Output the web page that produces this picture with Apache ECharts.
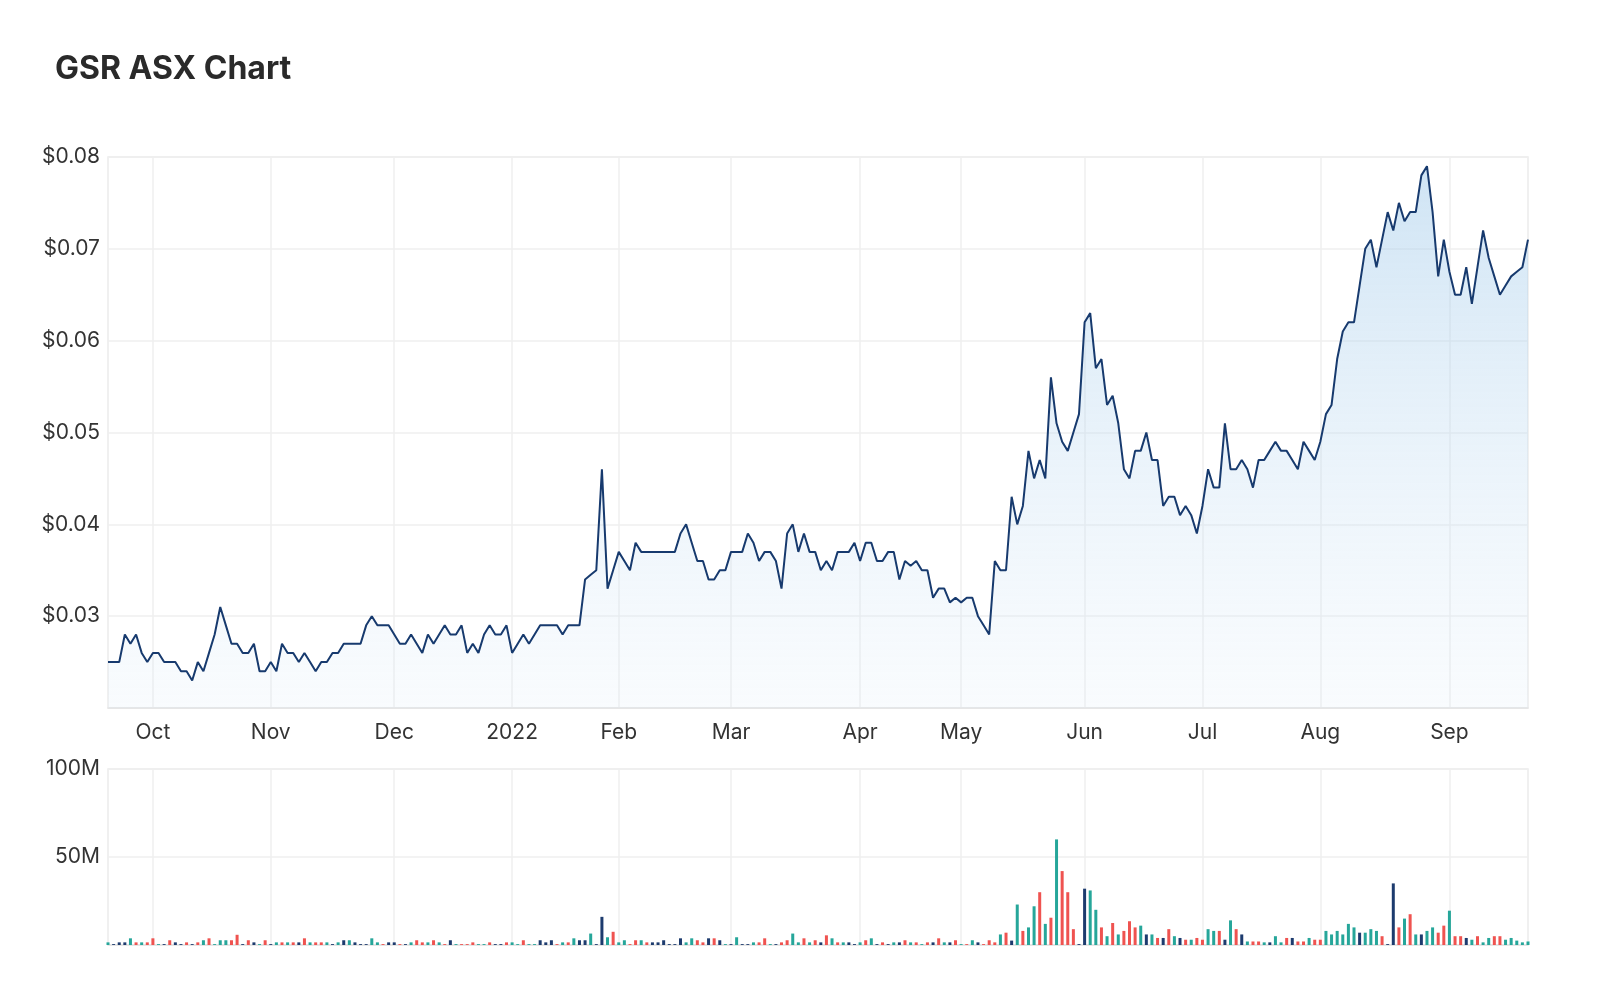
<!DOCTYPE html>
<html>
<head>
<meta charset="utf-8">
<script src="https://cdn.jsdelivr.net/npm/echarts@6/dist/echarts.min.js"></script>
<style>
  html, body { margin: 0; padding: 0; background: #fff; }
  #chart { width: 1608px; height: 984px; }
</style>
</head>
<body>
<div id="chart"></div>
<script>
// trading days: weekdays from 2021-09-21, ASX holidays skipped
const holidays = ['2021-12-27', '2021-12-28', '2022-01-03', '2022-01-26', '2022-04-15',
  '2022-04-18', '2022-04-25', '2022-06-13', '2022-09-22'];
const startDay = '2021-09-21';
const dayCount = 255;
const monthNames = ['Jan', 'Feb', 'Mar', 'Apr', 'May', 'Jun', 'Jul', 'Aug', 'Sep', 'Oct', 'Nov', 'Dec'];

// closing price, $
const prices = [
  .025, .025, .025, .028, .027, .028, .026, .025, .026, .026, .025,
  .025, .025, .024, .024, .023, .025, .024, .026, .028, .031,
  .029, .027, .027, .026, .026, .027, .024, .024, .025, .024,
  .027, .026, .026, .025, .026, .025, .024, .025, .025, .026,
  .026, .027, .027, .027, .027, .029, .030, .029, .029, .029,
  .028, .027, .027, .028, .027, .026, .028, .027, .028, .029,
  .028, .028, .029, .026, .027, .026, .028, .029, .028, .028,
  .029, .026, .027, .028, .027, .028, .029, .029, .029, .029,
  .028, .029, .029, .029,
  .034, .0345, .035, .046, .033, .035, .037, .036, .035, .038,
  .037, .037, .037, .037, .037, .037, .037, .039, .040, .038,
  .036, .036, .034, .034, .035, .035, .037, .037, .037, .039,
  .038, .036, .037, .037, .036, .033, .039, .040, .037, .039,
  .037, .037, .035, .036, .035, .037, .037, .037, .038, .036,
  .038, .038, .036, .036, .037, .037, .034, .036, .0355, .036,
  .035, .035, .032, .033, .033, .0315, .032, .0315,
  .032, .032, .030, .029, .028, .036, .035, .035, .043, .040,
  .042, .048, .045, .047, .045, .056, .051, .049, .048, .050,
  .052, .062, .063, .057, .058, .053, .054, .051, .046, .045,
  .048, .048, .050, .047, .047, .042, .043, .043, .041, .042,
  .041, .039, .042, .046, .044, .044, .051, .046, .046, .047,
  .046, .044, .047, .047, .048, .049, .048, .048,
  .047, .046, .049, .048, .047, .049, .052, .053, .058, .061,
  .062, .062, .066, .070, .071, .068, .071, .074, .072, .075,
  .073, .074, .074, .078, .079, .074, .067, .071, .0675, .065,
  .065, .068, .064, .068, .072,
  .069, .067, .065, .066, .067, .0675, .068, .071
];

// volume, millions
const volumes = [
  1.5, 0.5, 1.5, 1.5, 3.8, 1.5, 1.5, 1.5, 3.8, 0.5, 0.5, 2.7,
  1.5, 0.5, 1.5, 0.5, 1.5, 2.7, 3.8, 0.5, 2.7, 2.7,
  2.7, 5.8, 0.5, 2.7, 1.5, 0.5, 2.7, 0.5, 1.5, 1.5,
  1.5, 1.5, 1.5, 3.8, 1.5, 1.5, 1.5, 1.5, 0.5, 1.5,
  2.7, 2.7, 1.5, 0.5, 0.5, 3.8, 1.5, 0.5, 1.5, 1.5,
  0.5, 0.5, 1.5, 2.7, 1.5, 1.5, 2.7, 1.5, 0.5, 2.7,
  0.5, 0.5, 0.5, 1.5, 0.5, 0.5, 1.5, 0.5, 0.5, 1.5,
  1.5, 0.5, 2.7, 0.5, 0.5, 2.7, 1.5, 2.7, 0.5, 1.5,
  1.5, 3.8, 2.7, 2.7, 6.5, 0.5,
  16, 4.4, 7.5, 1.5, 2.7, 0.5, 2.7, 2.7, 1.5, 1.5,
  1.5, 2.7, 0.5, 0.5, 3.8, 1.5, 3.8, 2.7, 1.5, 3.8,
  3.8, 2.7, 0.5, 0.5, 4.4, 0.5, 0.5, 1.5, 1.5, 3.8,
  0.5, 0.5, 1.5, 2.7, 6.5, 1.5, 3.8, 1.5, 2.7, 1.5,
  5.5, 3.8, 1.5, 1.5, 1.5, 0.5, 1.5, 2.7, 3.8, 0.5,
  1.5, 0.5, 1.5, 1.5, 2.7, 1.5, 1.5, 0.5, 1.5, 1.5,
  3.8, 1.5, 1.5, 2.7, 0.5, 0.5, 2.7, 1.5, 0.5, 2.7,
  1.5,
  6, 7, 2.5, 23, 8, 10, 22, 30, 12, 15.5,
  60, 42, 30, 9, 0.5, 32, 31, 20, 10, 5,
  12.5, 6, 8, 13.5, 10, 11, 6, 6, 4, 4,
  9, 5, 4, 3, 3, 4, 3, 9, 8, 8,
  3, 14, 9, 6, 2, 2, 2, 1.5, 1.5, 5,
  1.5, 4, 4, 2, 2, 4, 3, 3, 8, 6,
  8, 6, 12, 10, 7, 7, 9, 8, 5, 0.5,
  35, 10, 15, 17.5, 6, 6, 8, 10, 7, 11,
  19.5, 5, 5, 4, 3, 5, 1.5, 4, 5, 5,
  3, 4, 2.5, 1.5, 2, 1.5
];
// bar colour per day, same rows as volumes: u = up, d = down, n = unchanged
const volDir = [
  'unnnududdund',
  'nndnduduuu', 'ddndnudnud', 'udnduddunu', 'nunnnuudnn',
  'dnuddududn', 'uddduudnnd', 'uuduunnndu', 'dunnun',
  'nuduuddudn', 'nnnnnuuddn', 'dnununnudd', 'undduududn',
  'dudunnudun', 'dnundududn', 'dundudundd', 'd',
  'udnuduudud', 'udddnnuudu', 'dudddunudn', 'dundudduud',
  'nudnuddunu', 'udnddudduu', 'uuuunuuudn', 'ndudunuudd',
  'uddnuduudd', 'uuuuuu'
].join('').split('');

const lineColor = '#173a6e';
const upColor = '#26a69a';
const downColor = '#ef5350';
const flatColor = '#1d3b6e';

// build the trading-day list
const dates = [];
let d = new Date(startDay + 'T00:00:00Z');
while (dates.length < dayCount) {
  const wd = d.getUTCDay();
  const key = d.toISOString().slice(0, 10);
  if (wd !== 0 && wd !== 6 && holidays.indexOf(key) < 0) dates.push(key);
  d = new Date(d.getTime() + 86400000);
}
const n = Math.min(dates.length, prices.length, volumes.length);
const cats = dates.slice(0, n);

function monthStart(i) {
  return i > 0 && cats[i].slice(5, 7) !== cats[i - 1].slice(5, 7);
}
function monthLabel(v) {
  const m = +v.slice(5, 7);
  return m === 1 ? v.slice(0, 4) : monthNames[m - 1];
}

const volData = volumes.slice(0, n).map(function (v, i) {
  const c = volDir[i] === 'u' ? upColor : volDir[i] === 'd' ? downColor : flatColor;
  return { value: v * 1e6, itemStyle: { color: c } };
});

const font = 'Inter, Roboto, "Noto Sans", sans-serif';
const gridLine = { show: true, interval: function (i) { return monthStart(i); }, lineStyle: { color: '#efefef', width: 1.5 } };

const chart = echarts.init(document.getElementById('chart'), null, { renderer: 'canvas' });
chart.setOption({
  animation: false,
  title: {
    text: 'GSR ASX Chart', left: 50, top: 48,
    textStyle: { fontFamily: font, fontWeight: 'bold', fontSize: 32, color: '#2a2a2a' }
  },
  grid: [
    { left: 108, right: 80, top: 157, height: 551, show: true, borderColor: '#ececec', borderWidth: 1.5 },
    { left: 108, right: 80, top: 769, height: 176, show: true, borderColor: '#ececec', borderWidth: 1.5 }
  ],
  xAxis: [
    {
      type: 'category', gridIndex: 0, data: cats, boundaryGap: false,
      axisLine: { lineStyle: { color: '#e3e3e3', width: 1.5 } }, axisTick: { show: false },
      axisLabel: {
        interval: function (i) { return monthStart(i); }, formatter: monthLabel,
        fontFamily: font, fontSize: 21, color: '#333', margin: 14
      },
      splitLine: gridLine
    },
    {
      type: 'category', gridIndex: 1, data: cats, boundaryGap: false,
      axisLine: { lineStyle: { color: '#e3e3e3', width: 1.5 } }, axisTick: { show: false },
      axisLabel: { show: false },
      splitLine: gridLine
    }
  ],
  yAxis: [
    {
      type: 'value', gridIndex: 0, min: 0.02, max: 0.08, interval: 0.01,
      axisLine: { show: false }, axisTick: { show: false },
      axisLabel: {
        showMinLabel: false, formatter: function (v) { return '$' + v.toFixed(2); },
        fontFamily: font, fontSize: 21, color: '#333', margin: 8
      },
      splitLine: { lineStyle: { color: '#efefef', width: 1.5 } }
    },
    {
      type: 'value', gridIndex: 1, min: 0, max: 100e6, interval: 50e6,
      axisLine: { show: false }, axisTick: { show: false },
      axisLabel: {
        showMinLabel: false, formatter: function (v) { return (v / 1e6) + 'M'; },
        fontFamily: font, fontSize: 21, color: '#333', margin: 8
      },
      splitLine: { lineStyle: { color: '#efefef', width: 1.5 } }
    }
  ],
  series: [
    {
      type: 'line', xAxisIndex: 0, yAxisIndex: 0, data: prices.slice(0, n),
      symbol: 'none', lineStyle: { color: lineColor, width: 2 },
      areaStyle: {
        color: new echarts.graphic.LinearGradient(0, 0, 0, 1, [
          { offset: 0, color: 'rgba(150,196,232,0.65)' },
          { offset: 1, color: 'rgba(220,235,248,0.25)' }
        ])
      }
    },
    {
      type: 'bar', xAxisIndex: 1, yAxisIndex: 1, data: volData, barWidth: 3
    }
  ]
});
</script>
</body>
</html>
